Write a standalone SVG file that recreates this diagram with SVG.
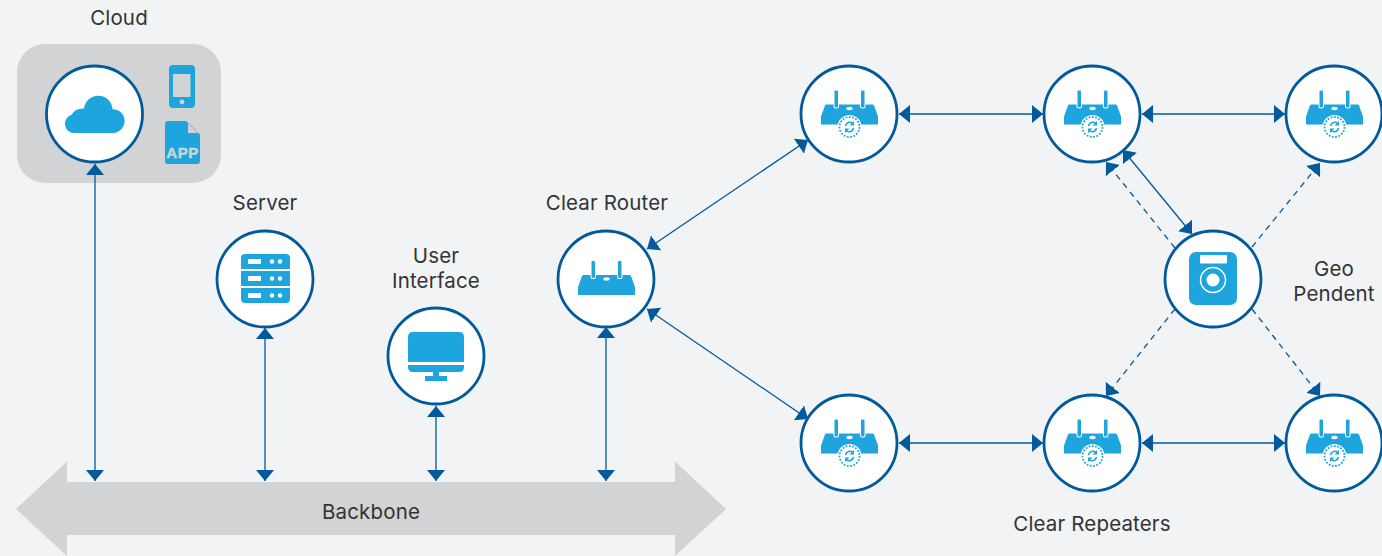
<svg xmlns="http://www.w3.org/2000/svg" width="1382" height="556" viewBox="0 0 1382 556">
<style>
.lbl{font-family:"Inter","Liberation Sans",sans-serif;font-size:20.5px;letter-spacing:.15px;fill:#333;text-anchor:middle}
.c{fill:#fff;stroke:#005a9c;stroke-width:2.8}
.i{fill:#1fa5de}
.w{fill:#fff}
.l{fill:none;stroke:#005a9c;stroke-width:1.3;marker-start:url(#a);marker-end:url(#a)}
.d{fill:none;stroke:#005a9c;stroke-width:1.3;stroke-dasharray:6 5;marker-end:url(#a)}
</style>
<defs>
<marker id="a" markerUnits="userSpaceOnUse" markerWidth="12" markerHeight="18" refX="11" refY="9" orient="auto-start-reverse" viewBox="0 0 12 18"><path d="M0 0L11 9L0 18Z" fill="#005a9c"/></marker>
<g id="router">
<path class="i" d="M-24.500-3Q-24-4-23-4H23Q24-4 24.500-3L28.500 8V16H-28.500V8Z"/>
<rect x="-16" y="-19" width="5.500" height="19" rx="2" class="w"/><rect x="-15" y="-18" width="3.500" height="17" rx="1" class="i"/>
<rect x="10.500" y="-19" width="5.500" height="19" rx="2" class="w"/><rect x="11.500" y="-18" width="3.500" height="17" rx="1" class="i"/>
<ellipse cx="0" cy="0" rx="3.200" ry="1.700" class="w"/>
</g>
<g id="repeater">
<use href="#router" y="-5.500"/>
<circle cy="13" r="12" class="w"/>
<circle cy="13" r="10" fill="none" stroke="#1fa5de" stroke-width="1.800" stroke-dasharray="1.800 1.500"/>
<path d="M-4 12A4.500 4.500 0 0 1 3.500 9.500M4 14A4.500 4.500 0 0 1-3.500 16.500" fill="none" stroke="#1fa5de" stroke-width="1.600"/>
<path d="M4.500 7V11.500H0ZM-4.500 19V14.500H0Z" fill="#1fa5de"/>
</g>
</defs>
<rect width="1382" height="556" fill="#f1f3f5"/>
<rect x="17" y="44" width="204" height="139" rx="28" fill="#d1d3d4"/>
<g id="backbone"><path d="M16 509L67 461.500V482H675V461.500L726 509L675 556V535H67V556Z" fill="#d1d3d4"/><text class="lbl" x="371" y="519">Backbone</text></g>
<g id="connectors">
<path class="l" d="M95 164V481"/>
<path class="l" d="M265 328V481"/>
<path class="l" d="M436 406V481"/>
<path class="l" d="M606 327V481"/>
<path class="l" d="M647 249L808 140"/>
<path class="l" d="M647 309L808 419"/>
<path class="l" d="M899 114H1043"/>
<path class="l" d="M1142 114H1285"/>
<path class="l" d="M899 443H1043"/>
<path class="l" d="M1142 443H1285"/>
<path class="l" d="M1123 150L1192 234"/>
<path class="d" d="M1175 248L1106 162"/>
<path class="d" d="M1252 247L1320 163"/>
<path class="d" d="M1175 309L1106 396"/>
<path class="d" d="M1252 309L1320 396"/>
</g>
<g id="cloud">
<circle class="c" cx="94.500" cy="114" r="48"/>
<path class="i" d="M74 133A9.300 9.300 0 0 1 71.500 114.800A13 13 0 0 1 84 108.500A14.300 14.300 0 0 1 112.500 109.200A11.900 11.900 0 0 1 113 133Z"/>
<rect class="i" x="169" y="65" width="26" height="43" rx="4"/>
<rect x="173" y="74" width="17.500" height="23" fill="#d1d3d4"/>
<circle cx="182" cy="102" r="2.400" fill="#d1d3d4"/>
<path class="i" d="M168 121H186L200 134.500V161Q200 164 197 164H168Q165 164 165 161V124Q165 121 168 121Z"/>
<path d="M188 123.500L198 133H188Z" fill="#d1d3d4"/>
<text x="182.500" y="158" font-family="Liberation Sans,sans-serif" font-size="15" font-weight="700" fill="#d1d3d4" stroke="#d1d3d4" stroke-width=".4" text-anchor="middle" letter-spacing=".5">APP</text>
<text class="lbl" x="119" y="25">Cloud</text>
</g>
<g id="server">
<circle class="c" cx="265" cy="279" r="48"/>
<path class="i" d="M241 269V258Q241 254 245 254H286Q290 254 290 258V269ZM241 271H290V286H241ZM241 288H290V299Q290 303 286 303H245Q241 303 241 299Z"/>
<g class="w"><rect x="248" y="259" width="13" height="5"/><circle cx="272" cy="261.500" r="2.200"/><circle cx="280" cy="261.500" r="2.200"/>
<rect x="248" y="276" width="13" height="5"/><circle cx="272" cy="278.500" r="2.200"/><circle cx="280" cy="278.500" r="2.200"/>
<rect x="248" y="293" width="13" height="5"/><circle cx="272" cy="295.500" r="2.200"/><circle cx="280" cy="295.500" r="2.200"/></g>
<text class="lbl" x="265" y="210">Server</text>
</g>
<g id="user-interface">
<circle class="c" cx="436" cy="356" r="48"/>
<path class="i" d="M408 362V337Q408 332 413 332H459Q464 332 464 337V362ZM408 365H464V367Q464 372 459 372H413Q408 372 408 367ZM433 372H439V376H447V381H425V376H433Z"/>
<text class="lbl" x="436" y="263">User</text><text class="lbl" x="436" y="288">Interface</text>
</g>
<g id="clear-router">
<circle class="c" cx="606" cy="279" r="48"/>
<use href="#router" x="606.500" y="279"/>
<text class="lbl" x="607" y="210">Clear Router</text>
</g>
<g id="repeater-1"><circle class="c" cx="849" cy="114" r="48"/><use href="#repeater" x="849.500" y="114"/></g>
<g id="repeater-2"><circle class="c" cx="1092" cy="114" r="48"/><use href="#repeater" x="1092.500" y="114"/></g>
<g id="repeater-3"><circle class="c" cx="1334" cy="114" r="48"/><use href="#repeater" x="1334.500" y="114"/></g>
<g id="repeater-4"><circle class="c" cx="849" cy="443" r="48"/><use href="#repeater" x="849.500" y="443"/></g>
<g id="repeater-5"><circle class="c" cx="1092" cy="443" r="48"/><use href="#repeater" x="1092.500" y="443"/></g>
<g id="repeater-6"><circle class="c" cx="1334" cy="443" r="48"/><use href="#repeater" x="1334.500" y="443"/></g>
<g id="geo-pendent">
<circle class="c" cx="1213" cy="279" r="48"/>
<rect class="i" x="1189" y="252" width="48" height="53" rx="7"/>
<rect class="w" x="1200" y="255" width="27" height="8.500" rx="1"/>
<circle cx="1213" cy="280" r="12.500" fill="none" stroke="#fff" stroke-width="1.500"/>
<circle class="w" cx="1213" cy="280" r="6.500"/>
<text class="lbl" x="1334" y="276">Geo</text><text class="lbl" x="1334" y="301">Pendent</text>
</g>
<text class="lbl" x="1092" y="531">Clear Repeaters</text>
</svg>
